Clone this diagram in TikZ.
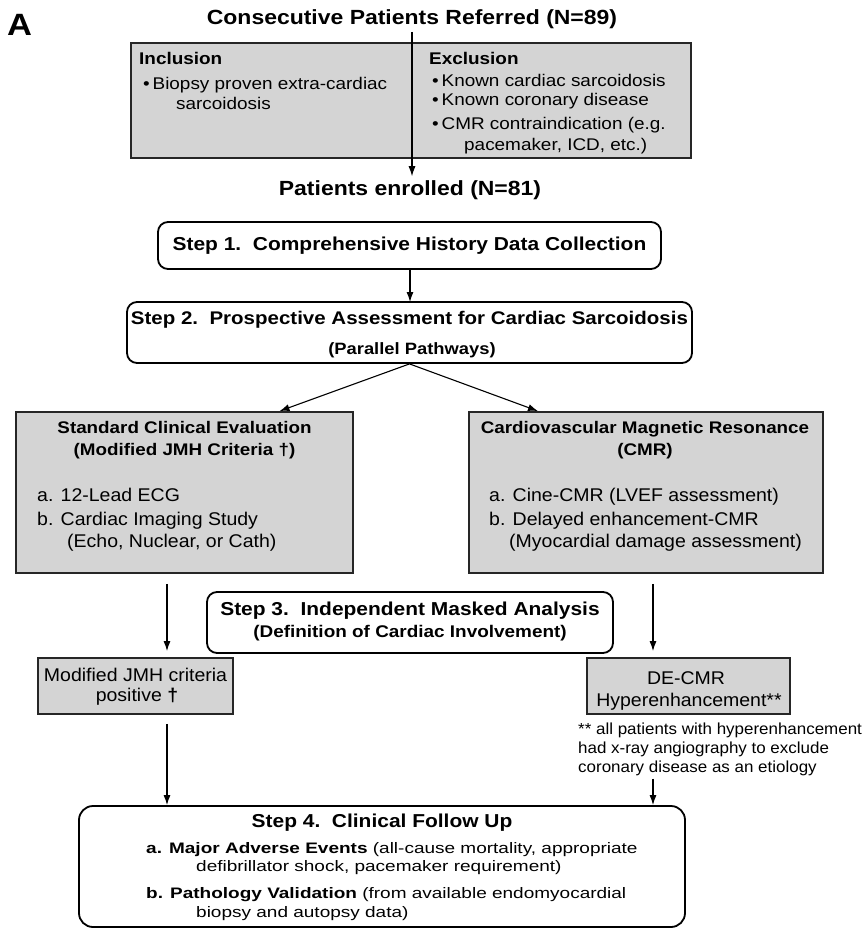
\documentclass[tikz,border=0pt]{standalone}
\usepackage{fontspec}
\setmainfont{Liberation Sans}[FakeStretch=1.12]
\newfontfamily\bodyfont{Liberation Sans}[FakeStretch=1.06]
\newfontfamily\widefont{Liberation Sans}[FakeStretch=1.25]
\usetikzlibrary{arrows.meta}

\tikzset{
  greybox/.style={draw=black!85, line width=1.8pt, fill=black!17},
  stepbox/.style={draw=black, line width=1.8pt, fill=white, rounded corners=10pt},
  flowarrow/.style={-{Latex[length=10pt,width=7pt]}, line width=1.1pt},
  stephead/.style={font=\bfseries\fontsize{18.7}{21}\selectfont},
  stepsub/.style={font=\bfseries\fontsize{16.9}{19}\selectfont},
  boxhead/.style={font=\bfseries\fontsize{16.8}{22}\selectfont, align=center},
  bodytext/.style={font=\bodyfont\fontsize{18.4}{22}\selectfont},
  listtext/.style={font=\fontsize{16.9}{20}\selectfont},
  followtext/.style={font=\widefont\fontsize{15.2}{19}\selectfont},
  notetext/.style={font=\bodyfont\fontsize{16}{19}\selectfont, align=left},
}

\begin{document}
\begin{tikzpicture}[x=1pt, y=-1pt, every node/.append style={inner sep=0pt}]
\useasboundingbox (0,0) rectangle (865,929);

% panel letter and intake
\node[font=\bfseries\fontsize{30.8}{31}\selectfont] (panel) at (19.5,24.5) {A};
\node[font=\bfseries\fontsize{20.5}{24}\selectfont] (title) at (412,19) {Consecutive Patients Referred (N=89)};
\node[greybox, minimum width=560pt, minimum height=115pt] (crit) at (411,100.5) {};
\node[anchor=west, font=\bfseries\fontsize{16.9}{20}\selectfont] (inchead) at (139,58) {Inclusion};
\node[anchor=west, listtext] (inca) at (143,85) {\textbullet\,Biopsy proven extra-cardiac};
\node[anchor=west, listtext] (incb) at (176,103) {sarcoidosis};
\node[anchor=west, font=\bfseries\fontsize{16.9}{20}\selectfont] (exchead) at (429,58) {Exclusion};
\node[anchor=west, listtext] (exca) at (432,80) {\textbullet\,Known cardiac sarcoidosis};
\node[anchor=west, listtext] (excb) at (432,101) {\textbullet\,Known coronary disease};
\node[anchor=west, listtext] (excc) at (432,125) {\textbullet\,CMR contraindication (e.g.};
\node[anchor=west, listtext] (excd) at (464,146) {pacemaker, ICD, etc.)};
\node[font=\bfseries\fontsize{20.5}{24}\selectfont] (enrol) at (410,190) {Patients enrolled (N=81)};
\draw[flowarrow, shorten <=3pt, shorten >=4pt] (title.south) -- (title.south |- enrol.north);

% steps 1 and 2
\node[stepbox, stephead, minimum width=503pt, minimum height=47pt] (s1) at (409.5,245.5) {Step 1.\ \ Comprehensive History Data Collection};
\draw[flowarrow] (enrol.south |- s1.south) -- (enrol.south |- s1.south |- 0,302);
\node[stepbox, minimum width=565pt, minimum height=61pt] (s2) at (409.5,332.5) {};
\node[font=\bfseries\fontsize{18.3}{21}\selectfont] (s2a) at (409.5,320) {Step 2.\ \ Prospective Assessment for Cardiac Sarcoidosis};
\node[font=\bfseries\fontsize{16.4}{19}\selectfont] (s2b) at (412,350) {(Parallel Pathways)};

% parallel pathways
\node[greybox, minimum width=337pt, minimum height=161pt] (sce) at (184.5,492.5) {};
\node[greybox, minimum width=354pt, minimum height=161pt] (cmr) at (646,492.5) {};
\draw[flowarrow] (s2.south) -- ([xshift=95pt]sce.north);
\draw[flowarrow] (s2.south) -- ([xshift=-108pt]cmr.north);
\node[boxhead] (sceh) at (184.5,440) {Standard Clinical Evaluation\\(Modified JMH Criteria \textdagger)};
\node[anchor=west, bodytext] (scea) at (37,495) {a. 12-Lead ECG};
\node[anchor=west, bodytext] (sceb) at (37,521) {b. Cardiac Imaging Study};
\node[anchor=west, bodytext] (scec) at (67,543) {(Echo, Nuclear, or Cath)};
\node[boxhead] (cmrh) at (645,440) {Cardiovascular Magnetic Resonance\\(CMR)};
\node[anchor=west, bodytext] (cmra) at (489,497) {a. Cine-CMR (LVEF assessment)};
\node[anchor=west, bodytext] (cmrb) at (489,521) {b. Delayed enhancement-CMR};
\node[anchor=west, bodytext] (cmrc) at (509,543) {(Myocardial damage assessment)};

% step 3 and the two results
\node[stepbox, minimum width=406pt, minimum height=61pt] (s3) at (410,622.5) {};
\node[stephead] (s3a) at (410,611) {Step 3.\ \ Independent Masked Analysis};
\node[stepsub] (s3b) at (410,633) {(Definition of Cardiac Involvement)};
\node[greybox, minimum width=195pt, minimum height=56pt] (jmh) at (135.5,686) {};
\node[bodytext] (jmha) at (135.5,675) {Modified JMH criteria};
\node[bodytext] (jmhb) at (137,697) {positive \textbf{\textdagger}};
\node[greybox, minimum width=203pt, minimum height=56pt] (decmr) at (688.5,686) {};
\node[bodytext] (decmra) at (686,678) {DE-CMR};
\node[bodytext] (decmrb) at (689,702) {Hyperenhancement**};
\node[anchor=west, notetext] (note) at (578,749) {** all patients with hyperenhancement\\had x-ray angiography to exclude\\coronary disease as an etiology};
\draw[flowarrow, shorten <=10pt, shorten >=6pt] ([xshift=-17.5pt]sce.south) -- ([xshift=-17.5pt]sce.south |- jmh.north);
\draw[flowarrow, shorten <=10pt, shorten >=6pt] ([xshift=7pt]cmr.south) -- ([xshift=7pt]cmr.south |- decmr.north);

% step 4
\node[stepbox, rounded corners=14pt, minimum width=606pt, minimum height=121pt] (s4) at (382,866.5) {};
\node[stephead] (s4h) at (382,823) {Step 4.\ \ Clinical Follow Up};
\node[anchor=west, followtext] (s4a) at (146,850) {\textbf{a. Major Adverse Events} (all-cause mortality, appropriate};
\node[anchor=west, followtext] (s4b) at (196,868) {defibrillator shock, pacemaker requirement)};
\node[anchor=west, followtext] (s4c) at (146,895) {\textbf{b. Pathology Validation} (from available endomyocardial};
\node[anchor=west, followtext] (s4d) at (196,914) {biopsy and autopsy data)};
\draw[flowarrow, shorten <=9pt] ([xshift=-17.5pt]sce.south |- jmh.south) -- ([xshift=-17.5pt]sce.south |- s4.north);
\draw[flowarrow, shorten <=3pt] ([xshift=7pt]cmr.south |- note.south) -- ([xshift=7pt]cmr.south |- s4.north);
\end{tikzpicture}
\end{document}
